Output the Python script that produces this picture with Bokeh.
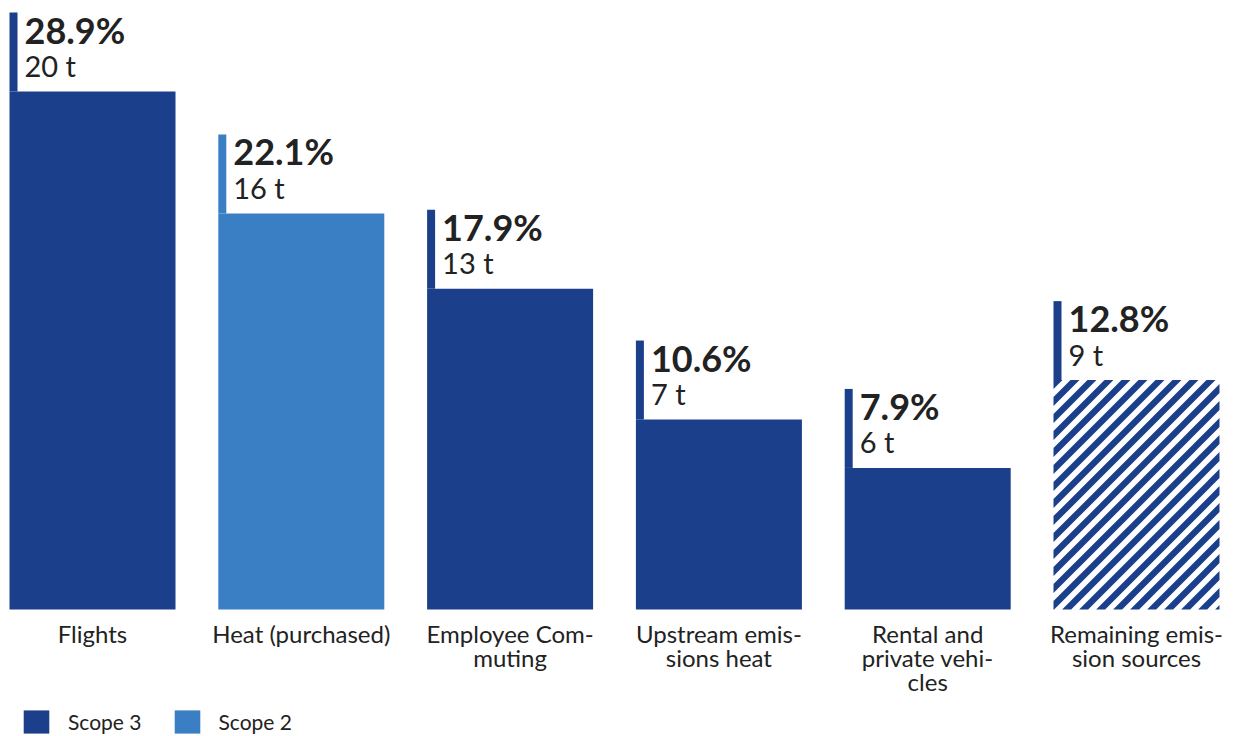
import math
from bokeh.plotting import figure
from bokeh.models import ColumnDataSource, Range1d, Legend, LegendItem
from bokeh.core.properties import value
from bokeh.embed import file_html
from bokeh.resources import INLINE

# ---------------- data ----------------
categories = ["Flights", "Heat (purchased)", "Employee Commuting",
              "Upstream emissions heat", "Rental and private vehicles",
              "Remaining emission sources"]
label_lines = [["Flights"], ["Heat (purchased)"], ["Employee Com-", "muting"],
               ["Upstream emis-", "sions heat"], ["Rental and", "private vehi-", "cles"],
               ["Remaining emis-", "sion sources"]]
shares = [28.9, 22.1, 17.9, 10.6, 7.9, 12.8]
tonnes = [20, 16, 13, 7, 6, 9]
scopes = ["Scope 3", "Scope 2", "Scope 3", "Scope 3", "Scope 3", "Scope 3"]
hatched = [False, False, False, False, False, True]

# ---------------- style ----------------
DARK = "#1B3F8A"
LIGHT = "#3A7FC4"
TXT = "#222222"
FONT = "Lato"
scope_colors = {"Scope 3": DARK, "Scope 2": LIGHT}
STRIPE_PERIOD = 17.0   # px, horizontal
STRIPE_BLUE = 9.0      # px, horizontal width of a blue band

W, H = 1239, 736
PX_X = 208.8     # px per category
PX_Y = 17.92     # px per percent
X0 = 92          # px of first bar centre
BASE = 609       # px of baseline from top
bar_w = 166 / PX_X

p = figure(width=W, height=H,
           x_range=Range1d(-X0 / PX_X, (W - X0) / PX_X),
           y_range=Range1d(-(H - BASE) / PX_Y, BASE / PX_Y),
           output_backend="svg", toolbar_location=None, min_border=0,
           x_axis_location=None, y_axis_location=None)
p.grid.visible = False
p.outline_line_color = None
p.background_fill_color = "white"
p.border_fill_color = "white"

xs = list(range(len(categories)))
colors = [scope_colors[s] for s in scopes]
lefts = [x - bar_w / 2 for x in xs]

solid = ColumnDataSource(dict(
    x=[x for x, h in zip(xs, hatched) if not h],
    top=[v for v, h in zip(shares, hatched) if not h],
    color=[c for c, h in zip(colors, hatched) if not h],
))
r_solid = p.vbar(x="x", top="top", bottom=0, width=bar_w, source=solid,
                 fill_color="color", line_color=None)


# 45-degree stripes for hatched bars, clipped to the bar rectangle
def clip(poly, f):
    out = []
    n = len(poly)
    for i in range(n):
        a, b = poly[i], poly[(i + 1) % n]
        fa, fb = f(a), f(b)
        if fa >= 0:
            out.append(a)
        if (fa >= 0) != (fb >= 0):
            t = fa / (fa - fb)
            out.append((a[0] + t * (b[0] - a[0]), a[1] + t * (b[1] - a[1])))
    return out


sx, sy = [], []
for x, v, h in zip(xs, shares, hatched):
    if not h:
        continue
    L, R = (x - bar_w / 2) * PX_X, (x + bar_w / 2) * PX_X
    T = v * PX_Y
    rect = [(L, 0.0), (R, 0.0), (R, T), (L, T)]
    c = L - T - STRIPE_PERIOD
    while c < R:
        band = clip(rect, lambda q, c=c: (q[0] - q[1]) - c)
        band = clip(band, lambda q, c=c: c + STRIPE_BLUE - (q[0] - q[1]))
        if len(band) >= 3:
            sx.append([q[0] / PX_X for q in band])
            sy.append([q[1] / PX_Y for q in band])
        c += STRIPE_PERIOD
p.patches(xs=sx, ys=sy, fill_color=DARK, line_color=None)

# marker lines above bars
msrc = ColumnDataSource(dict(
    left=lefts, right=[l + 8 / PX_X for l in lefts],
    bottom=shares, top=[v + 79 / PX_Y for v in shares], color=colors,
))
p.quad(left="left", right="right", bottom="bottom", top="top", source=msrc,
       fill_color="color", line_color=None)

tsrc = ColumnDataSource(dict(
    x=lefts, y=shares,
    pct=[f"{v:.1f}%" for v in shares],
    t=[f"{t} t" for t in tonnes],
))
p.text(x="x", y="y", text="pct", source=tsrc, x_offset=15, y_offset=-62,
       text_font=value(FONT), text_font_style="bold", text_font_size="36px",
       text_color=TXT, text_align="left", text_baseline="alphabetic")
p.text(x="x", y="y", text="t", source=tsrc, x_offset=15, y_offset=-26,
       text_font=value(FONT), text_font_size="29px",
       text_color=TXT, text_align="left", text_baseline="alphabetic")

# category labels
cx, ct, co = [], [], []
for x, lines in zip(xs, label_lines):
    for k, line in enumerate(lines):
        cx.append(x)
        ct.append(line)
        co.append(24 + 24 * k)
csrc = ColumnDataSource(dict(x=cx, y=[0] * len(cx), text=ct, yo=co))
p.text(x="x", y="y", text="text", y_offset="yo", source=csrc,
       text_font=value(FONT), text_font_size="24px", text_color=TXT,
       text_align="center", text_baseline="alphabetic")

legend = Legend(items=[LegendItem(label="Scope 3", renderers=[r_solid], index=0),
                       LegendItem(label="Scope 2", renderers=[r_solid], index=1)],
                location=(20, 0), orientation="horizontal",
                glyph_width=32, glyph_height=29, label_standoff=16, spacing=29,
                padding=0, margin=0, border_line_color=None,
                background_fill_alpha=0,
                label_text_font=FONT, label_text_font_size="21px",
                label_text_color=TXT)
p.add_layout(legend)

open("out.html", "w").write(file_html(p, INLINE))
